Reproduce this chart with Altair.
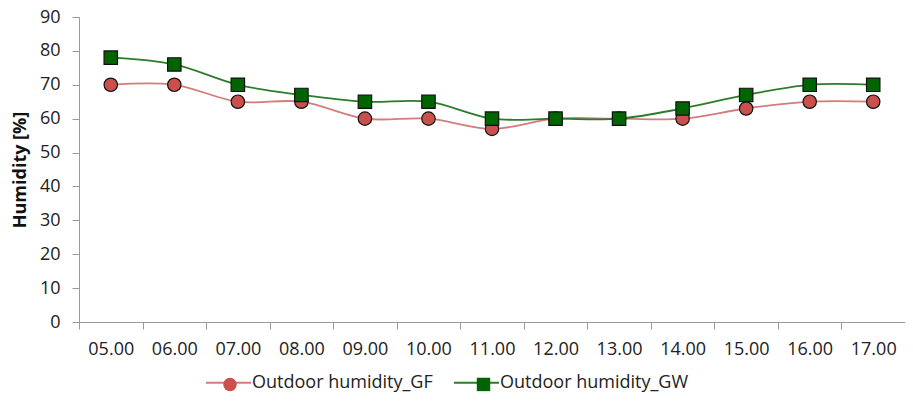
import altair as alt
import pandas as pd

hours = ["05.00", "06.00", "07.00", "08.00", "09.00", "10.00", "11.00",
         "12.00", "13.00", "14.00", "15.00", "16.00", "17.00"]
gf = [70, 70, 65, 65, 60, 60, 57, 60, 60, 60, 63, 65, 65]
gw = [78, 76, 70, 67, 65, 65, 60, 60, 60, 63, 67, 70, 70]
series_names = ["Outdoor humidity_GF", "Outdoor humidity_GW"]
series_codes = ["GF", "GW"]

rows = []
for name, code, vals in zip(series_names, series_codes, [gf, gw]):
    for h, v in zip(hours, vals):
        rows.append({"hour": h, "value": v, "series": name, "code": code})
df = pd.DataFrame(rows)

line_colors = ["#d47c7a", "#2a7d2a"]
marker_colors = ["#c9504d", "#006400"]
FONT = "Open Sans"
LX, LY = 126, 342

x_enc = alt.X("hour:N", sort=hours, title=None,
              scale=alt.Scale(type="band", paddingInner=0, paddingOuter=0),
              axis=alt.Axis(tickBand="extent", labelAngle=0, labelFontSize=18,
                            labelColor="#222222", labelPadding=11, tickSize=7,
                            domainColor="#9a9a9a", tickColor="#9a9a9a",
                            labelFont=FONT))
y_enc = alt.Y("value:Q", title="Humidity [%]",
              scale=alt.Scale(domain=[0, 90], nice=False),
              axis=alt.Axis(values=list(range(0, 91, 10)), grid=False,
                            labelFontSize=18, labelColor="#222222",
                            labelPadding=12, tickSize=7,
                            domainColor="#9a9a9a", tickColor="#9a9a9a",
                            titleFontSize=18, titleFontWeight="bold",
                            titleColor="#111111", titlePadding=10,
                            labelFont=FONT, titleFont=FONT))

base = alt.Chart(df)

lines = base.mark_line(interpolate="cardinal", strokeWidth=1.8).encode(
    x=x_enc, y=y_enc,
    color=alt.Color("series:N",
                    scale=alt.Scale(domain=series_names, range=line_colors),
                    legend=alt.Legend(title=None, orient="none", direction="horizontal",
                                      legendX=LX, legendY=LY,
                                      symbolType="stroke", symbolSize=2025,
                                      symbolStrokeWidth=1.8, labelOffset=0,
                                      columnPadding=17, labelFontSize=18,
                                      labelLimit=400,
                                      labelFont=FONT, labelColor="#222222",
                                      padding=0)))

name_expr = "datum.label == 'GF' ? 'Outdoor humidity_GF' : 'Outdoor humidity_GW'"
mk_legend = alt.Legend(title=None, orient="none", direction="horizontal",
                       legendX=LX, legendY=LY + 16,
                       symbolSize=180, symbolOffset=16,
                       symbolStrokeColor="#111111", symbolStrokeWidth=1.2,
                       labelOffset=32, columnPadding=6.5, labelLimit=400,
                       labelFontSize=18, labelFont=FONT, labelExpr=name_expr,
                       labelOpacity=0, padding=0)

points = base.mark_point(filled=True, stroke="#111111", size=180,
                         strokeWidth=1.2, opacity=1).encode(
    x=x_enc, y=y_enc,
    fill=alt.Fill("code:N",
                  scale=alt.Scale(domain=series_codes, range=marker_colors),
                  legend=mk_legend),
    shape=alt.Shape("code:N",
                    scale=alt.Scale(domain=series_codes, range=["circle", "square"]),
                    legend=mk_legend))

chart = alt.layer(lines, points).properties(
    width=826, height=305,
    autosize=alt.AutoSizeParams(type="none"),
    padding={"left": 71, "top": 9, "right": 0, "bottom": 78},
).configure_view(stroke=None)

chart.save("out.html", embed_options={"renderer": "svg", "actions": False})
